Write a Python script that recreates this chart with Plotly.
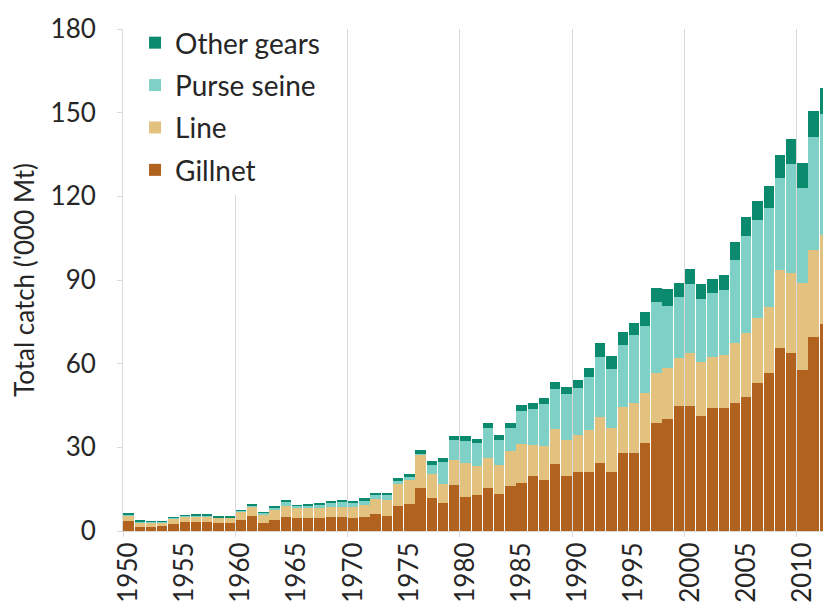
import plotly.graph_objects as go

years = list(range(1950, 2014))

gillnet = [3.5, 1.6, 1.6, 1.7, 2.6, 3.1, 3.2, 3.1, 2.8, 2.9,
           3.9, 5.4, 2.9, 4.0, 5.1, 4.6, 4.6, 4.6, 5.1, 5.0,
           4.5, 4.9, 6.1, 5.4, 9.0, 9.7, 15.3, 12.0, 10.0, 16.5,
           12.3, 12.9, 15.3, 13.2, 16.3, 17.1, 19.6, 18.3, 24.0, 19.7,
           21.0, 21.0, 24.5, 21.0, 27.8, 27.9, 31.4, 38.6, 40.0, 44.8,
           44.8, 41.2, 44.0, 44.0, 46.0, 48.2, 53.2, 56.5, 65.5, 63.9,
           57.9, 69.6, 74.4, 77.0]
line = [2.2, 1.6, 1.5, 1.5, 1.8, 2.0, 2.1, 2.2, 2.0, 1.9,
        3.1, 3.5, 2.8, 3.5, 3.9, 3.6, 3.6, 3.7, 3.6, 3.7,
        4.0, 4.4, 5.2, 5.7, 7.8, 8.6, 12.0, 8.5, 7.0, 9.0,
        12.0, 10.5, 11.0, 10.5, 12.5, 14.0, 11.2, 12.2, 12.6, 13.0,
        13.4, 15.2, 16.5, 15.8, 16.8, 17.9, 18.0, 17.9, 18.3, 17.1,
        18.9, 19.5, 18.5, 19.1, 21.3, 22.7, 23.0, 23.9, 28.0, 28.5,
        30.9, 31.1, 31.7, 33.0]
purse_seine = [0.3, 0.3, 0.3, 0.2, 0.3, 0.3, 0.3, 0.3, 0.2, 0.2,
               0.3, 0.3, 0.8, 0.8, 1.4, 0.8, 0.9, 1.3, 1.6, 1.7,
               1.8, 1.8, 1.6, 1.8, 1.3, 1.1, 0.2, 3.2, 7.6, 7.0,
               8.0, 8.0, 10.5, 9.0, 8.0, 12.0, 13.0, 15.0, 14.4, 16.5,
               16.7, 19.0, 21.5, 21.4, 22.0, 24.4, 24.2, 25.5, 22.3, 22.1,
               24.9, 22.5, 22.7, 23.2, 29.9, 34.8, 35.2, 35.3, 32.9, 39.3,
               34.2, 40.7, 43.6, 48.0]
other_gears = [0.2, 0.1, 0.1, 0.1, 0.2, 0.3, 0.4, 0.3, 0.2, 0.2,
               0.2, 0.2, 0.2, 0.5, 0.5, 0.3, 0.3, 0.5, 0.6, 0.6,
               0.6, 0.6, 0.8, 0.8, 0.9, 1.0, 1.5, 1.5, 1.4, 1.5,
               1.6, 1.7, 1.8, 1.8, 1.9, 2.0, 2.1, 2.2, 2.3, 2.6,
               3.0, 3.1, 4.8, 4.5, 4.8, 4.5, 5.0, 5.0, 6.0, 5.0,
               5.5, 5.5, 5.0, 5.5, 6.5, 7.0, 7.0, 8.0, 8.4, 9.0,
               9.0, 9.3, 9.0, 10.0]

tick_years = list(range(1950, 2015, 5))
tick_labels = [str(y) for y in tick_years]
decade_bounds = [y - 0.5 for y in range(1950, 2020, 10)]

series = [
    ("Gillnet", gillnet, "#B1621F", 4),
    ("Line", line, "#E2C27E", 3),
    ("Purse seine", purse_seine, "#7FD0C6", 2),
    ("Other gears", other_gears, "#0B8A6E", 1),
]

FONT = "Lato, 'Open Sans', sans-serif"
TXT = "#262626"

fig = go.Figure()
for name, vals, col, rank in series:
    fig.add_trace(go.Bar(
        x=years, y=vals, name=name, legendgroup=name, legendrank=rank,
        marker=dict(color=col, line=dict(width=0)),
    ))

fig.update_layout(
    width=823, height=600,
    barmode="stack", bargap=0.08,
    paper_bgcolor="white", plot_bgcolor="white",
    margin=dict(l=115, r=0, t=21, b=77, autoexpand=False),
    font=dict(family=FONT, size=26, color=TXT),
    showlegend=True,
    legend=dict(
        x=0.017, y=1.022, xanchor="left", yanchor="top",
        traceorder="grouped", tracegroupgap=3,
        bgcolor="white", font=dict(family=FONT, size=28, color=TXT),
    ),
    xaxis=dict(
        range=[1949.5, 2012.55],
        tickmode="array", tickvals=tick_years, ticktext=tick_labels,
        tickangle=-90, showgrid=False, ticks="",
        showline=True, linecolor="#D9D9D9", linewidth=1,
        tickfont=dict(family=FONT, size=26, color=TXT),
        minor=dict(tickmode="array", tickvals=decade_bounds, showgrid=True,
                   gridcolor="#D9D9D9", gridwidth=1, ticks="outside",
                   ticklen=5, tickcolor="#D9D9D9"),
        zeroline=False,
    ),
    yaxis=dict(
        range=[0, 180], tickmode="array", tickvals=[0, 30, 60, 90, 120, 150, 180],
        showgrid=False, zeroline=False,
        showline=True, linecolor="#D9D9D9", linewidth=1,
        ticks="outside", ticklen=5, tickcolor="#D9D9D9",
        ticklabelstandoff=16,
        tickfont=dict(family=FONT, size=26, color=TXT),
        title=dict(text="Total catch ('000 Mt)", standoff=8,
                   font=dict(family=FONT, size=26, color=TXT)),
    ),
)

fig.write_html("out.html")
